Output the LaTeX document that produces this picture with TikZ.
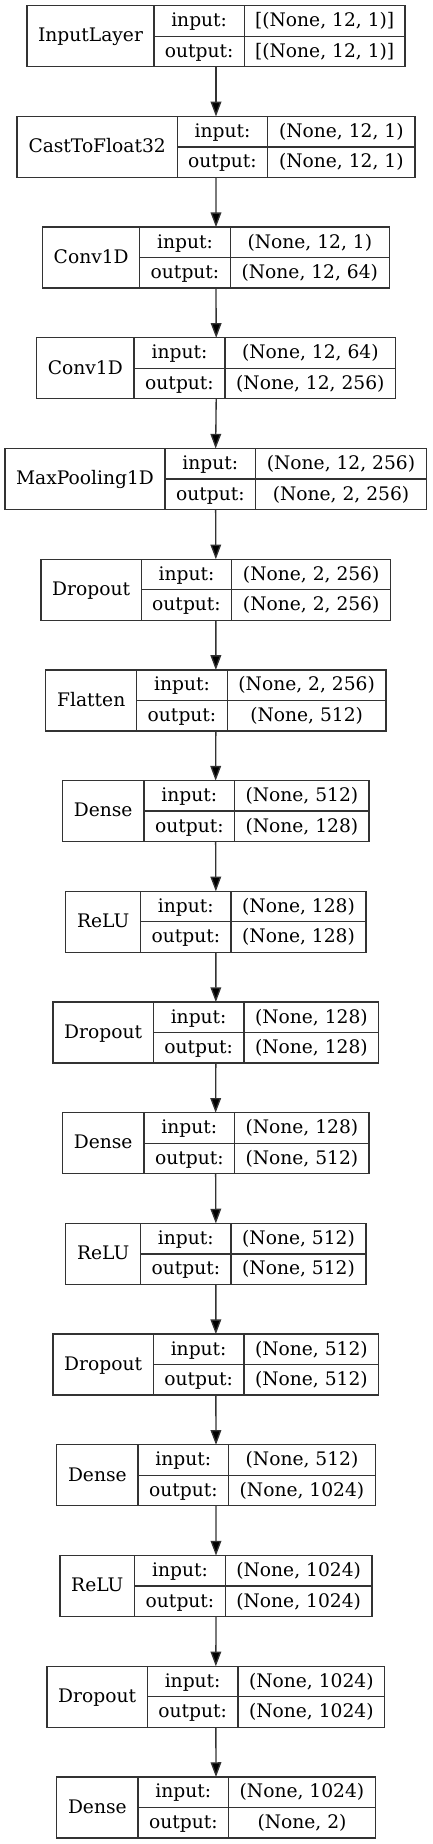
\documentclass[tikz,border=0pt]{standalone}
\usepackage{fontspec}
\setmainfont{DejaVu Serif}
\usetikzlibrary{arrows.meta}
\begin{document}
\begin{tikzpicture}[
	                      x = 0.75pt,
	                      y = -0.75pt,
	                   font = \fontsize{14}{17}\selectfont,
	    layerbox/.style = {draw=black!80, line width=1pt, rectangle, inner sep=0pt, outer sep=0pt,
	                       minimum height=45.75pt, anchor=north west},
	   layerline/.style = {draw=black!80, line width=1pt},
	        cell/.style = {inner sep=0pt, anchor=base},
	        flow/.style = {draw=black!80, line width=1pt, -{Triangle[length=11pt, width=8pt, fill=black]}},
	                     ]
	\useasboundingbox (0,0) rectangle (432,1844);
	\foreach \idx/\xl/\xa/\xb/\xr/\lname/\ishape/\oshape in {
		1/27/154/244.3/405/InputLayer/{[(None, 12, 1)]}/{[(None, 12, 1)]},
		2/17/177.3/267.7/415/CastToFloat32/{(None, 12, 1)}/{(None, 12, 1)},
		3/42.7/139.7/230.3/389.3/Conv1D/{(None, 12, 1)}/{(None, 12, 64)},
		4/36.7/134/225/395.7/Conv1D/{(None, 12, 64)}/{(None, 12, 256)},
		5/5/165/255.7/426.3/MaxPooling1D/{(None, 12, 256)}/{(None, 2, 256)},
		6/41/141.3/231.7/390.7/Dropout/{(None, 2, 256)}/{(None, 2, 256)},
		7/45.7/136.7/227.3/386/Flatten/{(None, 2, 256)}/{(None, 512)},
		8/62.3/144/234.7/369/Dense/{(None, 512)}/{(None, 128)},
		9/65.7/140.7/231/366/ReLU/{(None, 128)}/{(None, 128)},
		10/53/153.3/244/378.7/Dropout/{(None, 128)}/{(None, 128)},
		11/62.3/144/234.7/369/Dense/{(None, 128)}/{(None, 512)},
		12/65.7/140.7/231/366/ReLU/{(None, 512)}/{(None, 512)},
		13/53/153.3/244/378.7/Dropout/{(None, 512)}/{(None, 512)},
		14/56.7/138/228.7/375.3/Dense/{(None, 512)}/{(None, 1024)},
		15/60/134.7/225.3/372/ReLU/{(None, 1024)}/{(None, 1024)},
		16/47/147.3/238/384.7/Dropout/{(None, 1024)}/{(None, 1024)},
		17/56.7/138/228.7/375.3/Dense/{(None, 1024)}/{(None, 2)}} {
		\pgfmathsetmacro\ytop{5.7+(\idx-1)*110.7}
		\node[layerbox, minimum width={(\xr-\xl)*0.75pt}] (l\idx) at (\xl,\ytop) {};
		\draw[layerline] (\xa,\ytop) -- (\xa,{\ytop+61});
		\draw[layerline] (\xb,\ytop) -- (\xb,{\ytop+61});
		\draw[layerline] (\xa,{\ytop+30.5}) -- (\xr,{\ytop+30.5});
		\node[cell] (n\idx) at ({(\xl+\xa)/2},{\ytop+36.2}) {\lname};
		\node[cell] (ik\idx) at ({(\xa+\xb)/2},{\ytop+21}) {input:};
		\node[cell] (ok\idx) at ({(\xa+\xb)/2},{\ytop+51.5}) {output:};
		\node[cell] (iv\idx) at ({(\xb+\xr)/2},{\ytop+21}) {\ishape};
		\node[cell] (ov\idx) at ({(\xb+\xr)/2},{\ytop+51.5}) {\oshape};
	}
	\foreach \idx [evaluate=\idx as \nxt using int(\idx+1)] in {1,...,16}
		\draw[flow] (l\idx.south) -- (l\nxt.north);
\end{tikzpicture}
\end{document}
